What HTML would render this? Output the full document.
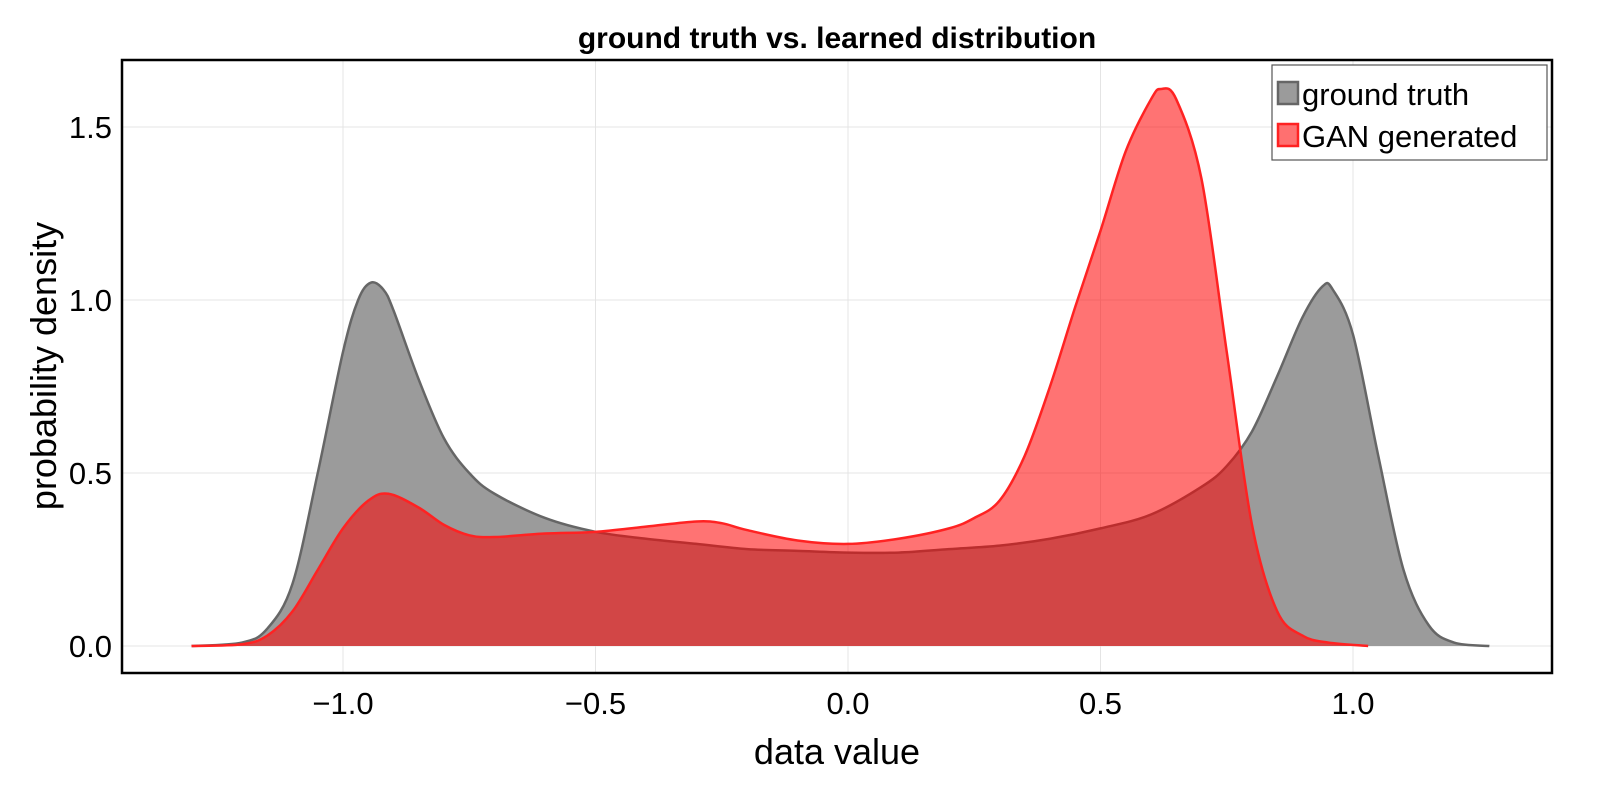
<!DOCTYPE html>
<html><head><meta charset="utf-8"><style>
body{margin:0;background:#fff}
svg{display:block;font-family:"Liberation Sans",sans-serif}
</style></head><body>
<svg id="chart" width="1600" height="800">
<text x="837" y="48" text-anchor="middle" font-size="30" font-weight="bold">ground truth vs. learned distribution</text>
<g id="grid"></g>
<g id="series"></g>
<rect x="122" y="60" width="1430" height="613" fill="none" stroke="#000" stroke-width="2.5"/>
<g id="ticks"></g>
<text x="837" y="764" text-anchor="middle" font-size="36">data value</text>
<text transform="translate(56,366) rotate(-90)" text-anchor="middle" font-size="36">probability density</text>
<g>
<rect x="1272" y="65" width="275" height="95" fill="#fff" stroke="#555" stroke-width="1.2"/>
<g>
<rect x="1278" y="82" width="20" height="22" fill="#9b9b9b" stroke="#666" stroke-width="2.5"/>
<text x="1302" y="105" font-size="31">ground truth</text></g>
<g>
<rect x="1278" y="124" width="20" height="22" fill="#ff7070" stroke="#f22" stroke-width="2.5"/>
<text x="1302" y="147" font-size="31">GAN generated</text></g>
</g>
</svg>
<script>
const xTicks=[-1.0,-0.5,0.0,0.5,1.0];
const xTickLabels=["−1.0","−0.5","0.0","0.5","1.0"];
const yTicks=[0,0.5,1.0,1.5];
const yTickLabels=["0.0","0.5","1.0","1.5"];
const gtX=[-1.3,-1.2,-1.15,-1.1,-1.05,-1.0,-0.97,-0.945,-0.92,-0.9,-0.85,-0.8,-0.75,-0.7,-0.6,-0.5,-0.4,-0.3,-0.2,-0.1,0.0,0.1,0.2,0.3,0.4,0.5,0.6,0.7,0.75,0.8,0.85,0.9,0.94,0.96,1.0,1.05,1.1,1.15,1.2,1.27];
const gtY=[0,0.01,0.05,0.18,0.5,0.85,1.0,1.05,1.03,0.97,0.77,0.6,0.5,0.44,0.37,0.33,0.31,0.295,0.28,0.275,0.27,0.27,0.28,0.29,0.31,0.34,0.38,0.46,0.52,0.62,0.78,0.95,1.04,1.03,0.9,0.55,0.22,0.06,0.01,0];
const ganX=[-1.3,-1.2,-1.15,-1.1,-1.05,-1.0,-0.95,-0.91,-0.85,-0.8,-0.75,-0.7,-0.6,-0.5,-0.4,-0.3,-0.25,-0.2,-0.1,0.0,0.1,0.2,0.25,0.3,0.35,0.4,0.45,0.5,0.55,0.6,0.62,0.65,0.7,0.75,0.8,0.85,0.9,0.95,1.03];
const ganY=[0,0.005,0.03,0.1,0.22,0.34,0.42,0.44,0.4,0.35,0.32,0.315,0.325,0.33,0.345,0.36,0.355,0.335,0.305,0.295,0.31,0.34,0.37,0.42,0.55,0.75,0.98,1.2,1.43,1.58,1.61,1.58,1.35,0.85,0.35,0.1,0.03,0.01,0];
const NS="http://www.w3.org/2000/svg";
const sx=v=>848+v*505, sy=v=>646-v*346;
const grid=document.getElementById('grid'), ticks=document.getElementById('ticks'), series=document.getElementById('series');
xTicks.forEach((t,i)=>{
 const l=document.createElementNS(NS,'line');
 
 
 l.setAttribute('x1',sx(t));l.setAttribute('x2',sx(t));l.setAttribute('y1',60);l.setAttribute('y2',673);
 l.setAttribute('stroke','#e4e4e4');grid.appendChild(l);
 const tx=document.createElementNS(NS,'text');
 
 
 tx.setAttribute('x',sx(t));tx.setAttribute('y',714);tx.setAttribute('text-anchor','middle');tx.setAttribute('font-size','31');
 tx.textContent=xTickLabels[i];ticks.appendChild(tx);
});
yTicks.forEach((t,i)=>{
 const l=document.createElementNS(NS,'line');
 
 
 l.setAttribute('x1',122);l.setAttribute('x2',1552);l.setAttribute('y1',sy(t));l.setAttribute('y2',sy(t));
 l.setAttribute('stroke','#e4e4e4');grid.appendChild(l);
 const tx=document.createElementNS(NS,'text');
 
 
 tx.setAttribute('x',112);tx.setAttribute('y',sy(t)+11);tx.setAttribute('text-anchor','end');tx.setAttribute('font-size','31');
 tx.textContent=yTickLabels[i];ticks.appendChild(tx);
});
function smooth(xs,ys){
 const p=xs.map((x,i)=>[sx(x),sy(ys[i])]);
 let d=`M${p[0][0]},${p[0][1]}`;
 for(let i=0;i<p.length-1;i++){
  const p0=p[Math.max(0,i-1)],p1=p[i],p2=p[i+1],p3=p[Math.min(p.length-1,i+2)];
  const c1=[p1[0]+(p2[0]-p0[0])/6,p1[1]+(p2[1]-p0[1])/6];
  const c2=[p2[0]-(p3[0]-p1[0])/6,p2[1]-(p3[1]-p1[1])/6];
  d+=`C${c1[0]},${c1[1]} ${c2[0]},${c2[1]} ${p2[0]},${p2[1]}`;
 }
 return d;
}
function draw(xs,ys,fill,op,stroke,name){
 const d=smooth(xs,ys);
 const a=document.createElementNS(NS,'path');
 
 
 a.setAttribute('d',d+`L${sx(xs[xs.length-1])},${sy(0)}L${sx(xs[0])},${sy(0)}Z`);
 a.setAttribute('fill',fill);a.setAttribute('fill-opacity',op);series.appendChild(a);
 const l=document.createElementNS(NS,'path');
 
 
 l.setAttribute('d',d);l.setAttribute('fill','none');l.setAttribute('stroke',stroke);l.setAttribute('stroke-width','2.5');
 series.appendChild(l);
}
draw(gtX,gtY,'#9b9b9b',1,'#666','ground-truth');
draw(ganX,ganY,'#ff0000',0.55,'#f22','gan-generated');
</script>
</body></html>
